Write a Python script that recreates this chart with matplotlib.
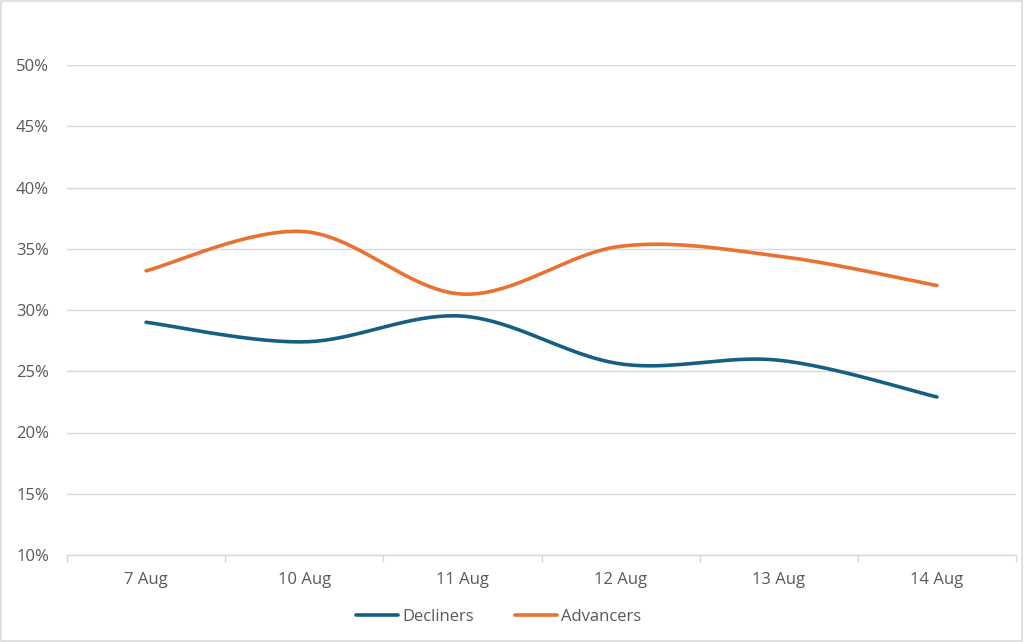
import numpy as np
import matplotlib
matplotlib.use("Agg")
import matplotlib.pyplot as plt
from matplotlib.ticker import PercentFormatter

categories = ["7 Aug", "10 Aug", "11 Aug", "12 Aug", "13 Aug", "14 Aug"]
decliners = [0.290, 0.274, 0.295, 0.256, 0.259, 0.229]
advancers = [0.332, 0.364, 0.313, 0.352, 0.344, 0.320]
yticks = [0.10, 0.15, 0.20, 0.25, 0.30, 0.35, 0.40, 0.45, 0.50]

series = [("Decliners", decliners, "#156082"), ("Advancers", advancers, "#E97132")]

plt.rcParams['font.family'] = ['Open Sans', 'DejaVu Sans']


def smooth(xs, ys, n=40):
    # Excel-style smoothing: Catmull-Rom Bezier through each point
    xs = np.asarray(xs, float)
    ys = np.asarray(ys, float)
    px = np.concatenate([[xs[0]], xs, [xs[-1]]])
    py = np.concatenate([[ys[0]], ys, [ys[-1]]])
    ox, oy = [], []
    for i in range(1, len(px) - 2):
        p0 = np.array([px[i - 1], py[i - 1]])
        p1 = np.array([px[i], py[i]])
        p2 = np.array([px[i + 1], py[i + 1]])
        p3 = np.array([px[i + 2], py[i + 2]])
        c1 = p1 + (p2 - p0) / 6
        c2 = p2 - (p3 - p1) / 6
        t = np.linspace(0, 1, n)[:, None]
        b = ((1 - t) ** 3) * p1 + 3 * ((1 - t) ** 2) * t * c1 + 3 * (1 - t) * t ** 2 * c2 + t ** 3 * p2
        ox.extend(b[:, 0]); oy.extend(b[:, 1])
    return np.array(ox), np.array(oy)


fig = plt.figure(figsize=(10.24, 6.42), dpi=100)
ax = fig.add_axes([67 / 1024, 87 / 642, (1016 - 67) / 1024, (555 - 65) / 642])

x = np.arange(len(categories))
handles = []
for name, vals, col in series:
    sx, sy = smooth(x, vals)
    h, = ax.plot(sx, sy, color=col, lw=2.6, solid_capstyle='round', label=name)
    handles.append(h)

ax.set_xlim(-0.5, len(categories) - 0.5)
ax.set_ylim(0.10, 0.50)
ax.set_yticks(yticks)
ax.yaxis.set_major_formatter(PercentFormatter(1.0, decimals=0))
ax.set_xticks(x)
ax.set_xticklabels(categories)
ax.set_xticks(np.arange(-0.5, len(categories), 1.0), minor=True)

ax.grid(axis='y', color='#d9d9d9', lw=1.0)
ax.set_axisbelow(True)
for s in ['top', 'right', 'left']:
    ax.spines[s].set_visible(False)
ax.spines['bottom'].set_color('#d9d9d9')
ax.spines['bottom'].set_linewidth(1.0)
ax.tick_params(axis='y', length=0, pad=13, labelsize=12, labelcolor='#595959')
ax.tick_params(axis='x', which='major', length=0, pad=12, labelsize=12, labelcolor='#595959')
ax.tick_params(axis='x', which='minor', length=5, color='#d9d9d9', width=1.0)

fig.legend(handles=handles, loc='center', bbox_to_anchor=(0.487, 0.039), ncol=2,
           frameon=False, fontsize=12, labelcolor='#595959', handlelength=2.5,
           handletextpad=0.25, columnspacing=2.5)

border = plt.Rectangle((0.001, 0.002), 0.997, 0.996, transform=fig.transFigure,
                       fill=False, edgecolor='#d9d9d9', lw=1.2)
fig.patches.append(border)

fig.savefig("out.png", dpi=100)
